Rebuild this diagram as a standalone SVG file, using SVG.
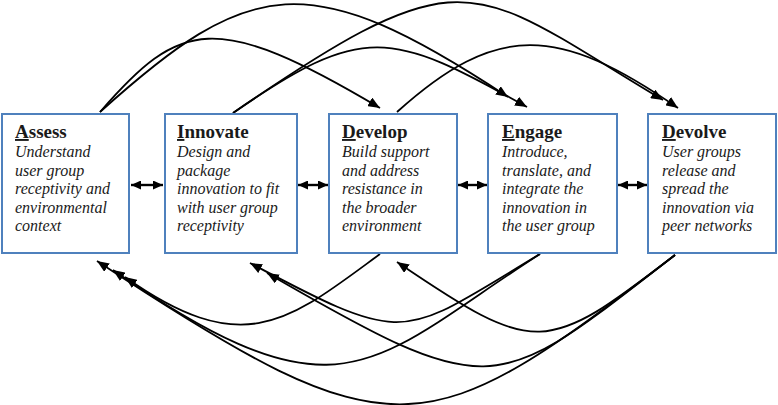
<svg xmlns="http://www.w3.org/2000/svg" width="778" height="405" viewBox="0 0 778 405">
<style>
.box{fill:#fff;stroke:#4f81bd;stroke-width:2}
.t{font-family:"Liberation Serif","Times New Roman",serif;font-weight:bold;font-size:19px;fill:#1a1a1a}
.d{font-family:"Liberation Serif","Times New Roman",serif;font-style:italic;font-size:16px;fill:#1a1a1a}
.u{text-decoration:underline}
.c{fill:none;stroke:#000;stroke-width:1.8;marker-end:url(#ah)}
.h{fill:none;stroke:#000;stroke-width:2.4;marker-end:url(#ah2);marker-start:url(#ah2)}
</style>
<defs>
<marker id="ah" markerUnits="userSpaceOnUse" markerWidth="12" markerHeight="10" refX="12" refY="5" orient="auto"><path d="M0,0 L12,5 L0,10 z" fill="#000"/></marker>
<marker id="ah2" markerUnits="userSpaceOnUse" markerWidth="10" markerHeight="9" refX="10" refY="4.5" orient="auto-start-reverse"><path d="M0,0 L10,4.5 L0,9 z" fill="#000"/></marker>
</defs>
<rect width="778" height="405" fill="#fff"/>
<g id="connectors">
<path class="c" d="M100,112 C180,20 215,10 380,108"/>
<path class="c" d="M100,112 C250,-23 308,-35 508,97"/>
<path class="c" d="M233,113 C363,23 390,30 527,107"/>
<path class="c" d="M233,113 C470,-50 470,-15 663,100"/>
<path class="c" d="M397,112 C497,22 558,25 678,108"/>
<path class="c" d="M380,254 C290,320 245,362 125,277"/>
<path class="c" d="M540,254 C370,363 343,429 113,270"/>
<path class="c" d="M540,254 C400,338 410,348 250,263"/>
<path class="c" d="M675,255 C545,355 537,357 397,262"/>
<path class="c" d="M675,255 C495,394 497,406 267,273"/>
<path class="c" d="M675,255 C425,447 397,459 97,261"/>
<path class="h" d="M131,185 L163,185"/>
<path class="h" d="M298,185 L328,185"/>
<path class="h" d="M458,185 L487,185"/>
<path class="h" d="M618,185 L647,185"/>
</g>
<g id="assess">
<rect class="box" x="2" y="114" width="127" height="139"/>
<text class="t" x="15" y="138"><tspan class="u">A</tspan>ssess</text>
<text class="d" x="15" y="157">Understand</text>
<text class="d" x="15" y="175.5">user group</text>
<text class="d" x="15" y="194">receptivity and</text>
<text class="d" x="15" y="212.5">environmental</text>
<text class="d" x="15" y="231">context</text>
</g>
<g id="innovate">
<rect class="box" x="165" y="114" width="132" height="139"/>
<text class="t" x="177" y="138"><tspan class="u">I</tspan>nnovate</text>
<text class="d" x="177" y="157">Design and</text>
<text class="d" x="177" y="175.5">package</text>
<text class="d" x="177" y="194">innovation to fit</text>
<text class="d" x="177" y="212.5">with user group</text>
<text class="d" x="177" y="231">receptivity</text>
</g>
<g id="develop">
<rect class="box" x="329" y="114" width="128" height="139"/>
<text class="t" x="342" y="138"><tspan class="u">D</tspan>evelop</text>
<text class="d" x="342" y="157">Build support</text>
<text class="d" x="342" y="175.5">and address</text>
<text class="d" x="342" y="194">resistance in</text>
<text class="d" x="342" y="212.5">the broader</text>
<text class="d" x="342" y="231">environment</text>
</g>
<g id="engage">
<rect class="box" x="488" y="114" width="129" height="139"/>
<text class="t" x="502" y="138"><tspan class="u">E</tspan>ngage</text>
<text class="d" x="502" y="157">Introduce,</text>
<text class="d" x="502" y="175.5">translate, and</text>
<text class="d" x="502" y="194">integrate the</text>
<text class="d" x="502" y="212.5">innovation in</text>
<text class="d" x="502" y="231">the user group</text>
</g>
<g id="devolve">
<rect class="box" x="648" y="114" width="128" height="139"/>
<text class="t" x="662" y="138"><tspan class="u">D</tspan>evolve</text>
<text class="d" x="662" y="157">User groups</text>
<text class="d" x="662" y="175.5">release and</text>
<text class="d" x="662" y="194">spread the</text>
<text class="d" x="662" y="212.5">innovation via</text>
<text class="d" x="662" y="231">peer networks</text>
</g>
</svg>
